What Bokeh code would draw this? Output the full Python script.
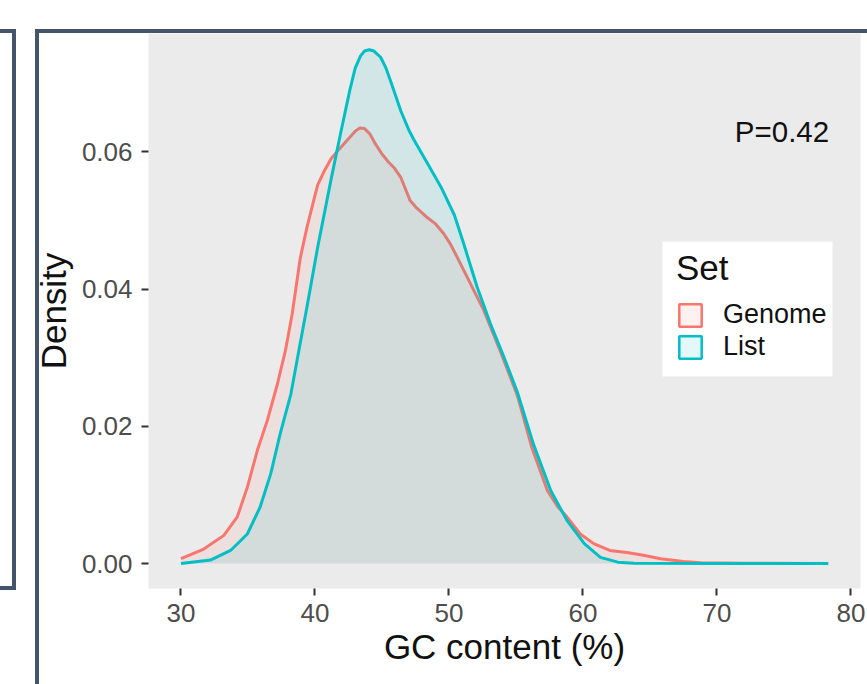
from bokeh.plotting import figure
from bokeh.models import (FixedTicker, NumeralTickFormatter, Legend, LegendItem,
                          BoxAnnotation, Range1d)
from bokeh.core.properties import value
from bokeh.embed import file_html
from bokeh.resources import INLINE

# ---- data ----
series = ["Genome", "List"]
colors = ["#F8766D", "#00BFC4"]

genome_x = [30.0, 31.7, 33.2, 34.2, 34.95, 35.7, 36.45, 37.2, 37.8, 38.3, 38.9,
            39.4, 39.9, 40.2, 40.66, 41.2, 41.8, 42.4, 43.0, 43.35, 43.7, 44.1,
            44.5, 45.0, 45.5, 45.9, 46.4, 47.1, 47.6, 48.4, 49.0, 49.6, 50.1,
            50.6, 51.6, 52.6, 53.8, 55.1, 56.2, 57.35, 58.1, 58.8, 59.8, 60.8,
            62.0, 63.3, 64.5, 65.8, 67.5, 68.8, 72.0, 78.3]
genome_y = [0.0007, 0.0021, 0.0041, 0.0068, 0.0111, 0.0165, 0.0209, 0.0262,
            0.0311, 0.0364, 0.0445, 0.0490, 0.0529, 0.0552, 0.0571, 0.0590,
            0.0604, 0.0617, 0.0630, 0.0635, 0.0634, 0.0626, 0.0612, 0.0597,
            0.0585, 0.0577, 0.0563, 0.0529, 0.0518, 0.0504, 0.0495, 0.0481,
            0.0466, 0.0447, 0.0408, 0.0369, 0.0311, 0.0245, 0.0168, 0.0106,
            0.0083, 0.0068, 0.0043, 0.0029, 0.0019, 0.0016, 0.0012, 0.0007,
            0.0003, 0.0001, 0.00003, 0.0]

list_x = [30.0, 32.2, 33.7, 34.95, 35.9, 36.7, 37.4, 38.2, 38.8, 39.4, 40.2,
          41.2, 41.9, 42.6, 43.0, 43.4, 43.7, 44.05, 44.4, 44.9, 45.3, 45.7,
          46.4, 47.0, 47.4, 48.4, 49.4, 50.4, 51.1, 52.1, 53.1, 54.1, 55.1,
          56.3, 57.6, 58.8, 60.1, 61.3, 62.6, 63.8, 70.0, 78.3]
list_y = [0.0, 0.0005, 0.0019, 0.0043, 0.0082, 0.0131, 0.0189, 0.0247, 0.0311,
          0.0374, 0.0461, 0.0560, 0.0626, 0.0690, 0.0722, 0.0740, 0.0747,
          0.0749, 0.0747, 0.0738, 0.0722, 0.0700, 0.0660, 0.0632, 0.0617,
          0.0583, 0.0549, 0.0508, 0.0466, 0.0403, 0.0349, 0.0301, 0.0250,
          0.0174, 0.0106, 0.0063, 0.0029, 0.0009, 0.0002, 0.00004, 0.0, 0.0]

x_ticks = [30, 40, 50, 60, 70, 80]
y_ticks = [0.0, 0.02, 0.04, 0.06]

annot_text = ["P=0.42"]
annot_x = [74.85]
annot_y = [0.063]

FONT = "Liberation Sans"
FRAME = "#44546A"

p = figure(width=867, height=684,
           x_range=Range1d(27.575, 80.71), y_range=Range1d(-0.003644, 0.07726),
           output_backend="svg", toolbar_location=None,
           min_border_left=148, min_border_right=7,
           min_border_top=33, min_border_bottom=96)

p.background_fill_color = "#EBEBEB"
p.border_fill_alpha = 0.0
p.outline_line_color = None
p.grid.visible = False

# decorative slide frames drawn as the host element's background
g = "linear-gradient(%s,%s)" % (FRAME, FRAME)
p.styles = {
    "background": ", ".join([
        g + " 35px 29px / 4px 655px no-repeat",
        g + " 35px 29px / 832px 4px no-repeat",
        g + " 0px 29px / 16px 4px no-repeat",
        g + " 12px 29px / 4px 561px no-repeat",
        g + " 0px 586px / 16px 4px no-repeat",
        "#ffffff",
    ])
}

xs = [genome_x, list_x]
ys = [genome_y, list_y]
for xv, yv, c in zip(xs, ys, colors):
    p.varea(x=xv, y1=[0.0] * len(xv), y2=yv, fill_color=c, fill_alpha=0.1)
    p.line(x=xv, y=yv, line_color=c, line_width=3, line_join="round")

p.text(x=annot_x, y=annot_y, text=annot_text, text_font=value(FONT),
       text_font_size="29.5px", text_align="center", text_baseline="middle",
       text_color="#111111")

# axes
for ax in (p.xaxis[0], p.yaxis[0]):
    ax.axis_line_color = None
    ax.major_tick_line_color = "#333333"
    ax.major_tick_line_width = 2
    ax.major_tick_in = 0
    ax.major_tick_out = 7
    ax.minor_tick_line_color = None
    ax.major_label_text_font = FONT
    ax.major_label_text_font_size = "26px"
    ax.major_label_text_color = "#4D4D4D"
    ax.axis_label_text_font = FONT
    ax.axis_label_text_font_size = "35px"
    ax.axis_label_text_font_style = "normal"
    ax.axis_label_text_color = "#111111"

p.xaxis.ticker = FixedTicker(ticks=x_ticks)
p.yaxis.ticker = FixedTicker(ticks=y_ticks)
p.yaxis.formatter = NumeralTickFormatter(format="0.00")
p.xaxis.axis_label = "GC content (%)"
p.yaxis.axis_label = "Density"
p.xaxis.major_label_standoff = 8
p.yaxis.major_label_standoff = 9
p.xaxis.axis_label_standoff = 2
p.yaxis.axis_label_standoff = 6

# legend: white box + bordered square keys
p.add_layout(BoxAnnotation(left=662, right=832, top=241, bottom=376,
                           left_units="canvas", right_units="canvas",
                           top_units="canvas", bottom_units="canvas",
                           fill_color="white", fill_alpha=1.0, line_color=None))
nan = float("nan")
keys = [p.quad(left=[nan], right=[nan], top=[nan], bottom=[nan], fill_color=c,
               fill_alpha=0.1, line_color=c, line_width=2.5) for c in colors]
legend = Legend(items=[LegendItem(label=s, renderers=[r]) for s, r in zip(series, keys)],
                title="Set", location=(528, 226))
legend.title_text_font = FONT
legend.title_text_font_size = "35px"
legend.title_text_font_style = "normal"
legend.title_text_color = "#111111"
legend.title_text_line_height = 1.0
legend.title_standoff = 11
legend.label_text_font = FONT
legend.label_text_font_size = "27px"
legend.label_text_color = "#111111"
legend.label_text_line_height = 1.0
legend.glyph_width = 28
legend.glyph_height = 28
legend.label_height = 28
legend.label_standoff = 19
legend.spacing = 1
legend.padding = 0
legend.margin = 0
legend.border_line_color = None
legend.background_fill_alpha = 0.0
p.add_layout(legend)

open("out.html", "w").write(file_html(p, INLINE))
